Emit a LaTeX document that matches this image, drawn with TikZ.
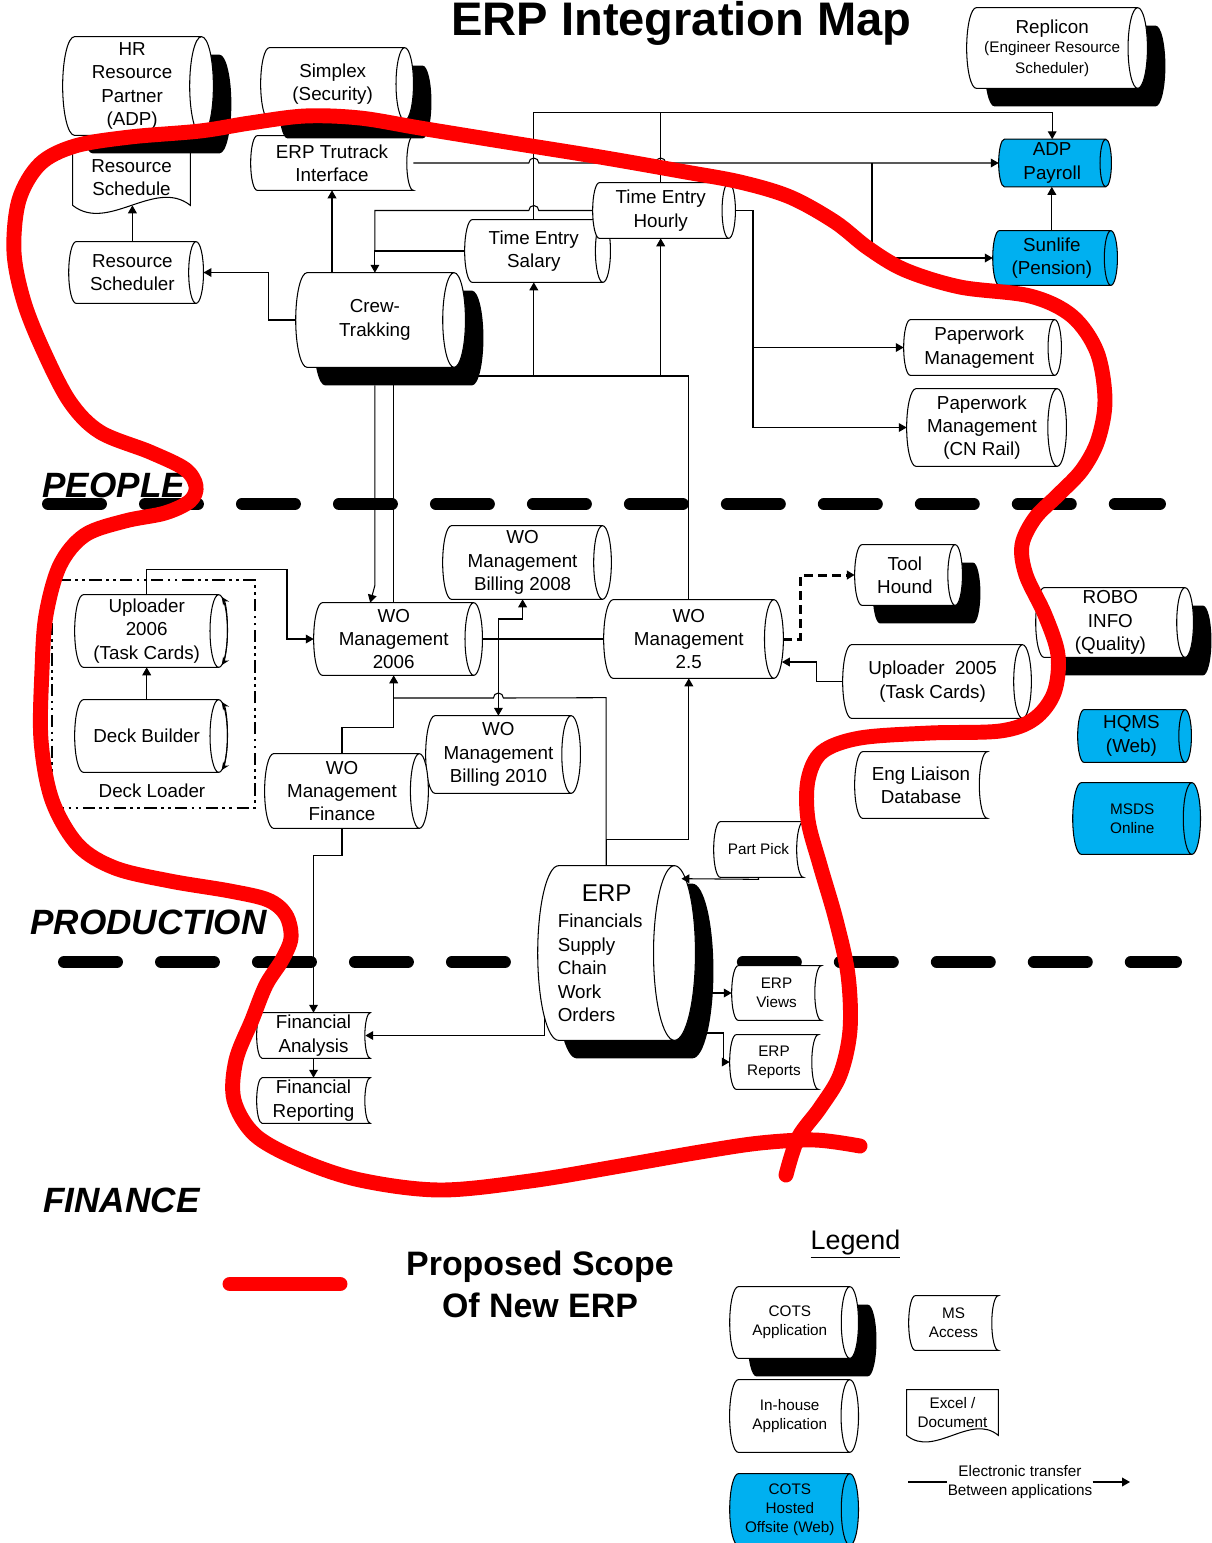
\documentclass[tikz,border=0pt]{standalone}
\usepackage{fontspec}
\setmainfont{Liberation Sans}
\usetikzlibrary{arrows.meta,calc,backgrounds}

\definecolor{webblue}{RGB}{0,176,240}
\definecolor{scopered}{RGB}{255,0,0}

\newcommand{\mainsize}{\fontsize{10.7pt}{13.3pt}\selectfont}
\newcommand{\smallsize}{\fontsize{8.7pt}{10.8pt}\selectfont}

\newcommand{\cylshape}[2][]{%
  \path[#1] let \p1=(#2.north west), \p2=(#2.south east),
      \n1={0.12*(\y1-\y2)}, \n2={0.5*(\y1-\y2)} in
    (\x1+\n1*1pt,\y1) -- (\x2,\y1)
    arc[start angle=90, end angle=-90, x radius=\n1*1pt, y radius=\n2*1pt]
    -- (\x1+\n1*1pt,\y2)
    arc[start angle=270, end angle=90, x radius=\n1*1pt, y radius=\n2*1pt] -- cycle
    (\x2,\y2) arc[start angle=270, end angle=90, x radius=\n1*1pt, y radius=\n2*1pt];}
\newcommand{\storedshape}[2][]{%
  \path[#1] let \p1=(#2.north west), \p2=(#2.south east),
      \n1={0.12*(\y1-\y2)}, \n2={0.5*(\y1-\y2)} in
    (\x1+\n1*1pt,\y1) -- (\x2,\y1)
    arc[start angle=90, end angle=270, x radius=\n1*1pt, y radius=\n2*1pt]
    -- (\x1+\n1*1pt,\y2)
    arc[start angle=270, end angle=90, x radius=\n1*1pt, y radius=\n2*1pt] -- cycle;}
\newcommand{\docshape}[2][]{%
  \path[#1] let \p1=(#2.north west), \p2=(#2.south east),
      \n1={\x2-\x1}, \n2={\y1-\y2} in
    (\x1,\y2) -- (\x1,\y1) -- (\x2,\y1) -- (\x2,\y2)
    .. controls (\x2-0.3*\n1*1pt,\y2+0.5*\n2*1pt) and (\x1+0.3*\n1*1pt,\y2-0.5*\n2*1pt) .. (\x1,\y2) -- cycle;}
\newcommand{\turnarrow}[1]{%
  \draw[line width=0.6pt, {Stealth[length=4.5pt,width=4pt]}-{Stealth[length=4.5pt,width=4pt]}]
    let \p1=(#1.north east), \p2=(#1.south east),
      \n1={0.12*(\y1-\y2)}, \n2={0.5*(\y1-\y2)} in
    (\x1+0.342*\n1*1pt,\y2+1.94*\n2*1pt)
    arc[start angle=70, end angle=-70, x radius=\n1*1pt, y radius=\n2*1pt];}

\begin{document}
\begin{tikzpicture}[x=0.02cm, y=-0.02cm,
  app/.style={inner sep=0pt, align=center, font=\mainsize},
  appsmall/.style={app, font=\smallsize},
  appbody/.style={draw, line width=0.6pt, fill=white},
  appweb/.style={draw, line width=0.6pt, fill=webblue},
  appshadow/.style={fill=black, transform canvas={shift={(0.36cm,-0.36cm)}}},
  conn/.style={draw, line width=0.6pt, -{Triangle[length=4.5pt,width=5pt]}},
  link/.style={draw, line width=0.6pt},
  dashconn/.style={conn, line width=1.7pt, dash pattern=on 5pt off 3pt},
  zone/.style={font=\fontsize{20pt}{24pt}\selectfont\bfseries\itshape, inner sep=0pt, anchor=base west},
  divider/.style={line width=6.8pt, line cap=round, dash pattern=on 1.06cm off 0.88cm},
  scopeline/.style={draw=scopered, line width=8.5pt, line cap=round, line join=round},
  loaderbox/.style={draw, line width=1.6pt, inner sep=0pt,
    dash pattern=on 7pt off 2.5pt on 1.5pt off 2.5pt on 1.5pt off 2.5pt}]
\useasboundingbox (0,0) rectangle (1212,1543);

\node[font=\fontsize{26.8pt}{30pt}\selectfont\bfseries, inner sep=0pt, anchor=base] (title) at (681.5,35) {ERP Integration Map};

\node[app, minimum width=2.764cm, minimum height=1.96cm] (hr) at (132.1,86) {HR\\Resource\\Partner\\(ADP)};
\node[app, minimum width=2.868cm, minimum height=1.44cm] (simplex) at (332.7,84) {Simplex\\(Security)};
\node[app, minimum width=3.408cm, minimum height=1.6cm] (replicon) at (1052.2,48) {Replicon\\[-2.5pt]{\smallsize (Engineer Resource}\\[-1.5pt]{\smallsize Scheduler)}};
\node[app, minimum width=2.34cm, minimum height=1.1cm] (resched) at (131.5,177.5) {Resource\\Schedule};
\node[app, minimum width=3.24cm, minimum height=1.08cm] (trutrack) at (332,163) {ERP Trutrack\\Interface};
\node[app, minimum width=2.534cm, minimum height=1.22cm] (rsched) at (132.4,272.5) {Resource\\Scheduler};
\node[app, minimum width=3.154cm, minimum height=1.88cm] (crew) at (374.9,320) {Crew-\\Trakking};
\node[app, minimum width=2.752cm, minimum height=1.24cm] (tesal) at (533.8,251) {Time Entry\\Salary};
\node[app, minimum width=2.708cm, minimum height=1.1cm] (tehour) at (660.7,210.5) {Time Entry\\Hourly};
\node[app, minimum width=2.128cm, minimum height=0.94cm] (adp) at (1052.2,163) {ADP\\Payroll};
\node[app, minimum width=2.35cm, minimum height=1.08cm] (sunlife) at (1051.8,258) {Sunlife\\(Pension)};
\node[app, minimum width=3.008cm, minimum height=1.1cm] (ppw) at (979.2,347.5) {Paperwork\\Management};
\node[app, minimum width=2.996cm, minimum height=1.54cm] (ppwcn) at (981.9,427.5) {Paperwork\\Management\\(CN Rail)};

\node[app, minimum width=2.868cm, minimum height=1.44cm] (up06) at (146.7,631) {Uploader\\2006\\(Task Cards)};
\node[app, minimum width=2.868cm, minimum height=1.44cm] (deck) at (146.7,736) {Deck Builder};
\node[loaderbox, minimum width=4.06cm, minimum height=4.56cm] (loader) at (153.5,694) {};
\node[app] (loaderlabel) at (152,791) {Deck Loader};
\node[app, minimum width=3.188cm, minimum height=1.44cm] (wo06) at (393.7,639) {WO\\Management\\2006};
\node[app, minimum width=3.184cm, minimum height=1.46cm] (bill08) at (522.6,562.5) {WO\\Management\\Billing 2008};
\node[app, minimum width=2.896cm, minimum height=1.54cm] (bill10) at (498.4,754.5) {WO\\Management\\Billing 2010};
\node[app, minimum width=3.082cm, minimum height=1.48cm] (wofin) at (342,791) {WO\\Management\\Finance};
\node[app, minimum width=3.392cm, minimum height=1.56cm] (wo25) at (688.8,639) {WO\\Management\\2.5};
\node[app, minimum width=1.996cm, minimum height=1.2cm] (tool) at (904.9,575) {Tool\\Hound};
\node[app, minimum width=3.584cm, minimum height=1.46cm] (up05) at (932.6,681.5) {Uploader~ 2005\\(Task Cards)};
\node[app, minimum width=2.974cm, minimum height=1.38cm] (robo) at (1110.4,622.5) {ROBO\\INFO\\(Quality)};
\node[app, minimum width=2.136cm, minimum height=1.04cm] (hqms) at (1131.4,736) {HQMS\\(Web)};
\node[appsmall, minimum width=2.37cm, minimum height=1.42cm] (msds) at (1132.3,818.5) {MSDS\\Online};
\node[app, minimum width=2.64cm, minimum height=1.32cm] (engl) at (921,785) {Eng Liaison\\Database};
\node[appsmall, minimum width=1.78cm, minimum height=1.1cm] (pick) at (758.5,849.5) {Part Pick};

\node[app, align=left, minimum width=2.722cm, minimum height=3.48cm] (erp) at (606.1,953) {\hspace*{0.48cm}{\fontsize{13.8pt}{17pt}\selectfont ERP}\\[2pt]Financials\kern0.24cm\\Supply\\Chain\\Work\\Orders};
\node[appsmall, minimum width=1.78cm, minimum height=1.08cm] (views) at (776.5,993) {ERP\\Views};
\node[appsmall, minimum width=1.76cm, minimum height=1.08cm] (reports) at (774,1062) {ERP\\Reports};
\node[app, minimum width=2.26cm, minimum height=0.9cm] (fana) at (313.5,1035.5) {Financial\\Analysis};
\node[app, minimum width=2.26cm, minimum height=0.9cm] (frep) at (313.5,1100.5) {Financial\\Reporting};

\node[zone] (people) at (42,497) {PEOPLE};
\node[zone] (production) at (30,934) {PRODUCTION};
\node[zone] (finance) at (43,1212) {FINANCE};

\node[font=\fontsize{19.3pt}{24pt}\selectfont\bfseries, align=center, inner sep=0pt] (proposed) at (540,1284) {Proposed Scope\\Of New ERP};
\node[font=\fontsize{15.3pt}{18pt}\selectfont, inner sep=0pt, anchor=base] (legend) at (855.5,1249) {\underline{Legend}};
\node[appsmall, minimum width=2.39cm, minimum height=1.42cm] (lcots) at (789.8,1322.5) {COTS\\Application};
\node[appsmall, minimum width=2.39cm, minimum height=1.44cm] (linh) at (789.7,1416) {In-house\\Application};
\node[appsmall, minimum width=2.39cm, minimum height=1.42cm] (lweb) at (789.8,1509.5) {COTS\\Hosted\\Offsite (Web)};
\node[appsmall, minimum width=1.78cm, minimum height=1.08cm] (lms) at (953.5,1323) {MS\\Access};
\node[appsmall, minimum width=1.82cm, minimum height=0.9cm] (ldoc) at (952.5,1412.5) {Excel /\\Document};
\node[appsmall] (xfer) at (1020,1482) {Electronic transfer\\Between applications};
\coordinate (xferstart) at (908,1482);
\coordinate (xferend) at (1130,1482);
\coordinate (scopestart) at (230,1284);
\coordinate (scopeend) at (340,1284);

\begin{scope}[on background layer]
\draw[divider] (48,504) -- (1160,504);
\draw[divider] (64,962) -- (1176,962);
\foreach \app in {resched,ldoc} {\docshape[appbody]{\app}}
\foreach \app in {trutrack,pick,engl,views,reports,fana,frep,lms} {\storedshape[appbody]{\app}}
\foreach \app in {hr,simplex,replicon,crew,tool,robo,erp,lcots} {\cylshape[appshadow]{\app}\cylshape[appbody]{\app}}
\foreach \app in {rsched,tesal,tehour,ppw,ppwcn,up06,deck,wo06,bill08,bill10,wofin,wo25,up05,linh} {\cylshape[appbody]{\app}}
\foreach \app in {adp,sunlife,hqms,msds,lweb} {\cylshape[appweb]{\app}}
\end{scope}
\foreach \app in {up06,deck} {\turnarrow{\app}}

\draw[conn] (rsched.north) -- (rsched.north |- resched.south);
\draw[conn] (crew.west) -- ++(-27,0) |- ([xshift=0.15cm]rsched.east);
\draw[conn] (crew.north -| trutrack.south) -- (trutrack.south);
\draw[conn] (tesal.west) -| (crew.north);
\draw[link] (tehour.west) -- (538.8,210.5) arc[start angle=0, end angle=-180, radius=5] -- (tehour.west -| crew.north) -- (tesal.west -| crew.north);
\draw[conn] (tesal.north) -- ++(0,-107) -| (adp.north);
\draw[link] (tehour.north) -- ++(0,-70);
\draw[conn] (trutrack.east) -- (528.8,163) arc[start angle=180, end angle=360, radius=5] -- (655.7,163) arc[start angle=180, end angle=360, radius=5] -- (adp.west);
\coordinate (payfork) at (872,163);
\draw[conn] (payfork) |- (sunlife.west);
\draw[conn] (sunlife.north) -- (sunlife.north |- adp.south);
\coordinate (paperfork) at (753,347.5);
\draw[conn] ([xshift=0.13cm]tehour.east) -| (paperfork) -- (ppw.west);
\draw[conn] (paperfork) |- (ppwcn.west);
\coordinate (crewbus) at (478,376);
\draw[link] (crewbus) -| (wo25.north);
\draw[conn] (tesal.south |- crewbus) -- (tesal.south);
\draw[conn] (tehour.south |- crewbus) -- (tehour.south);
\draw[conn] ([yshift=-0.36cm]crew.south) -- ++(0,200) -- ([xshift=-0.47cm]wo06.north);
\draw[link] (wo06.north) -- ++(0,-219);

\draw[conn] (up06.north) -- ++(0,-25) -- ++(140.3,0) |- (wo06.west);
\draw[conn] (deck.north) -- (up06.south);
\draw[link] ([xshift=0.17cm]wo06.east) -- (wo06.east -| wo25.west);
\coordinate (billfork) at (bill10.north |- wo06.east);
\draw[conn] (billfork) -- ++(0,-20) -| (bill08.south);
\draw[conn] (billfork) -- (bill10.north);
\draw[conn] (wofin.north) -- ++(0,-26) -| (wo06.south);
\draw[conn] (erp.north) -- ++(0,-26) -| (wo25.south);
\draw[link] (erp.north) -- ++(0,-168) -- (503.4,698) arc[start angle=0, end angle=-180, radius=5] -- ++(-99.7,0);
\draw[dashconn] ([xshift=0.19cm]wo25.east) -- ++(17,0) |- (tool.west);
\draw[conn] (up05.west) -- ++(-26,0) |- ([shift={(8,23)}]wo25.east);

\draw[conn] (wofin.south) -- ++(0,27) -| (fana.north);
\draw[conn] ([shift={(6.8,64)}]erp.west) |- ([xshift=-0.1cm]fana.east);
\draw[conn] (fana.south) -- (frep.north);
\draw[conn] (pick.south) -- ++(0,2) -- ([shift={(7,13)}]erp.north east);
\draw[conn] ([shift={(38,40)}]erp.east) -- (views.west);
\draw[conn] ([shift={(30,80)}]erp.east) -- ++(19,0) |- (reports.west);

\draw[link] (xferstart) -- (xfer.west);
\draw[conn] (xfer.east) -- (xferend);
\draw[scopeline] (scopestart) -- (scopeend);

\draw[scopeline] plot[smooth, tension=0.55] coordinates {(860,1146) (815,1140) (760,1143) (700,1152) (620,1166) (530,1181) (440,1190) (360,1180) (300,1160) (255,1135) (234,1100) (236,1060) (252,1020) (266,985) (282,960) (291,938) (286,915) (268,900) (230,891) (170,881) (115,868) (78,845) (52,800) (41,740) (42,670) (46,615) (60,565) (85,535) (125,521) (165,513) (190,501) (196,486) (185,469) (150,452) (100,432) (70,402) (44,352) (24,302) (14,252) (19,200) (40,164) (75,146) (130,137) (200,131) (250,123) (305,116) (360,118) (420,128) (500,141) (600,157) (680,171) (740,182) (790,197) (835,222) (868,248) (905,270) (960,287) (1030,296) (1072,316) (1097,352) (1105,400) (1098,440) (1082,470) (1058,495) (1035,518) (1022,545) (1026,575) (1045,615) (1058,655) (1054,693) (1034,719) (1000,731) (930,733) (860,738) (822,752) (808,780) (808,820) (820,865) (836,920) (848,975) (850,1030) (840,1075) (820,1108) (798,1138) (786,1175)};
\end{tikzpicture}
\end{document}
